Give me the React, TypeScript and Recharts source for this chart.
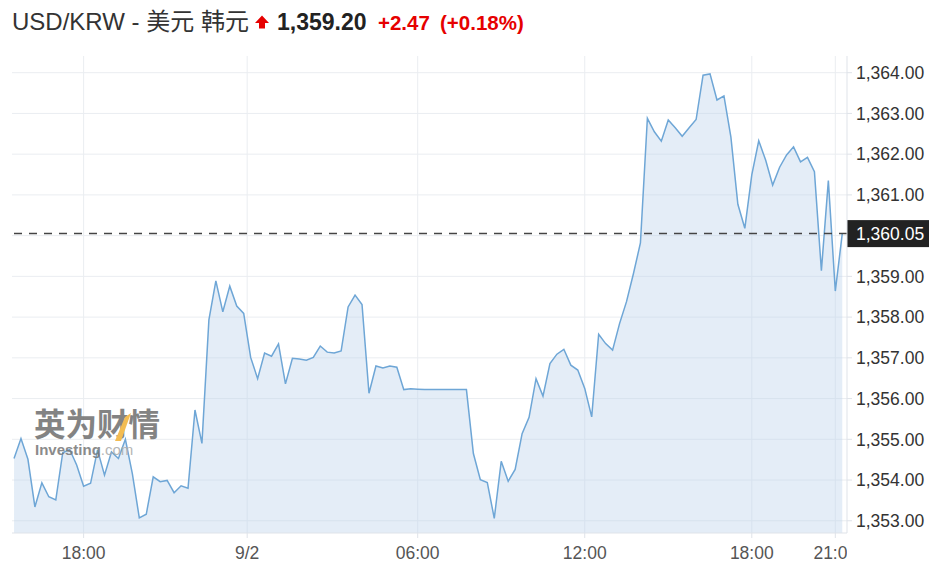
import React from "react";
import {
  AreaChart,
  Area,
  XAxis,
  YAxis,
  CartesianGrid,
  ReferenceLine,
} from "recharts";

// USD/KRW, 15-minute closes, 9/1 15:30 -> 9/2 21:15 (slot index 0..119)
const prices: number[] = [
  1354.53, 1355.02, 1354.51, 1353.34, 1353.93, 1353.59, 1353.51, 1354.67, 1354.75, 1354.37,
  1353.85, 1353.92, 1354.74, 1354.12, 1354.69, 1354.53, 1355.0, 1354.16, 1353.07, 1353.16,
  1354.08, 1353.96, 1353.99, 1353.69, 1353.86, 1353.8, 1355.72, 1354.9, 1357.93, 1358.89,
  1358.13, 1358.76, 1358.27, 1358.09, 1357.01, 1356.49, 1357.12, 1357.04, 1357.34, 1356.36,
  1356.99, 1356.97, 1356.94, 1357.01, 1357.29, 1357.14, 1357.12, 1357.17, 1358.25, 1358.54,
  1358.31, 1356.13, 1356.8, 1356.75, 1356.8, 1356.77, 1356.22, 1356.24, 1356.23, 1356.22,
  1356.22, 1356.22, 1356.22, 1356.22, 1356.22, 1356.22, 1354.65, 1354.01, 1353.94, 1353.06,
  1354.46, 1353.97, 1354.26, 1355.14, 1355.54, 1356.49, 1356.06, 1356.86, 1357.09, 1357.21,
  1356.82, 1356.7, 1356.25, 1355.55, 1357.58, 1357.35, 1357.19, 1357.84, 1358.38, 1359.07,
  1359.82, 1362.88, 1362.55, 1362.32, 1362.84, 1362.65, 1362.44, 1362.65, 1362.85, 1363.94,
  1363.97, 1363.33, 1363.43, 1362.42, 1360.77, 1360.18, 1361.49, 1362.33, 1361.85, 1361.24,
  1361.68, 1361.98, 1362.18, 1361.81, 1361.92, 1361.57, 1359.14, 1361.35, 1358.64, 1360.05,
];

// x tick positions (in 15-minute slots) and their labels
const xTickSlots: number[] = [10, 33.5, 58, 82, 106, 118];
const xTickLabels: string[] = ["18:00", "9/2", "06:00", "12:00", "18:00", "21:00"];

// 1,360.00 is hidden behind the last-price tag in the reference
const yTicks: number[] = [1353, 1354, 1355, 1356, 1357, 1358, 1359, 1361, 1362, 1363, 1364];
const yGrid: number[] = [1353, 1354, 1355, 1356, 1357, 1358, 1359, 1360, 1361, 1362, 1363, 1364];

const lastPrice = 1360.05;
const titlePair = "USD/KRW - 美元 韩元";
const titlePrice = "1,359.20";
const titleChange = "+2.47";
const titlePct = "(+0.18%)";

const data = prices.map((v, i) => ({ i, v }));

const W = 945;
const H = 574;
const Y_AXIS_W = 98;
const X_AXIS_H = 41;
const FONT = "'Liberation Sans', Arial, 'Noto Sans CJK SC', sans-serif";
const fmt = (v: number) =>
  v.toLocaleString("en-US", { minimumFractionDigits: 2, maximumFractionDigits: 2 });

const XTick = (props: any) => {
  const { x, y, payload } = props;
  const idx = xTickSlots.indexOf(payload.value);
  const label = idx >= 0 ? xTickLabels[idx] : "";
  const clipId = `xclip${idx}`;
  return (
    <g>
      <defs>
        <clipPath id={clipId}>
          <rect x={0} y={y - 10} width={W - Y_AXIS_W} height={40} />
        </clipPath>
      </defs>
      <text
        x={x}
        y={y}
        dy="0.71em"
        textAnchor="middle"
        fill="#555"
        fontSize={17.5}
        fontFamily={FONT}
        clipPath={`url(#${clipId})`}
      >
        {label}
      </text>
    </g>
  );
};

const PriceLabel = (props: any) => {
  const vb = props.viewBox || {};
  const x = (vb.x || 0) + (vb.width || 0);
  const y = vb.y || 0;
  return (
    <g>
      <rect x={x} y={y - 13.5} width={82} height={27} fill="#222" />
      <text x={x + 9} y={y} dy="0.355em" fill="#fff" fontSize={17.5} fontFamily={FONT}>
        {fmt(lastPrice)}
      </text>
    </g>
  );
};

export default function App() {
  return (
    <div style={{ position: "absolute", left: 0, top: 0, width: W, height: H, background: "#fff" }}>
      <AreaChart
        width={W}
        height={H}
        data={data}
        margin={{ top: 56, right: 0, left: 12, bottom: 0 }}
      >
        <CartesianGrid
          stroke="#eaedf1"
          strokeWidth={1}
          horizontalValues={yGrid}
          verticalValues={xTickSlots}
        />
        <XAxis
          dataKey="i"
          type="number"
          domain={[-0.29, 119.68]}
          allowDataOverflow
          ticks={xTickSlots}
          interval={0}
          height={X_AXIS_H}
          axisLine={{ stroke: "#dfe3e9" }}
          tickLine={{ stroke: "#dfe3e9" }}
          tickSize={5}
          tickMargin={9}
          tick={<XTick />}
        />
        <YAxis
          orientation="right"
          width={Y_AXIS_W}
          domain={[1352.7, 1364.41]}
          allowDataOverflow
          ticks={yTicks}
          interval={0}
          tickFormatter={fmt}
          axisLine={{ stroke: "#dfe3e9" }}
          tickLine={{ stroke: "#dfe3e9" }}
          tickSize={5}
          tickMargin={4}
          tick={{ fill: "#333", fontSize: 17.5, fontFamily: FONT, textAnchor: "start" }}
        />
        <Area
          type="linear"
          dataKey="v"
          stroke="#6ea6d6"
          strokeWidth={1.5}
          fill="#bcd3ea"
          fillOpacity={0.4}
          dot={false}
          activeDot={false}
          isAnimationActive={false}
        />
        <ReferenceLine
          y={lastPrice}
          stroke="#444"
          strokeWidth={1.5}
          strokeDasharray="8 7"
          label={<PriceLabel />}
        />
      </AreaChart>

      {/* header */}
      <svg width={W} height={50} style={{ position: "absolute", left: 0, top: 0 }}>
        <text x={12} y={29.5} fontSize={24} fill="#333" fontFamily={FONT}>
          {titlePair}
        </text>
        <path d="M262 15.5 L269 23 L265 23 L265 28.5 L259 28.5 L259 23 L255 23 Z" fill="#e60000" />
        <text x={277} y={29.5} fontSize={23} fontWeight="bold" fill="#222" fontFamily={FONT}>
          {titlePrice}
        </text>
        <text x={378} y={29.5} fontSize={20.5} fontWeight="bold" fill="#e60000" fontFamily={FONT}>
          {titleChange}
        </text>
        <text x={440} y={29.5} fontSize={20.5} fontWeight="bold" fill="#e60000" fontFamily={FONT}>
          {titlePct}
        </text>
      </svg>

      {/* watermark */}
      <svg width={150} height={52} style={{ position: "absolute", left: 30, top: 406, opacity: 0.85 }}>
        <text x={4} y={30} fontSize={31.5} fontWeight="bold" fill="#6e6e6e" fontFamily="'Noto Sans CJK SC', sans-serif">
          英为财情
        </text>
        <polygon points="95,11 101,7 91,35 85,35" fill="#f2b134" />
        <text x={5} y={49} fontSize={15} fontWeight="bold" fill="#777" fontFamily={FONT}>
          Investing
          <tspan fontWeight="normal" fill="#aaa">.com</tspan>
        </text>
      </svg>
    </div>
  );
}
